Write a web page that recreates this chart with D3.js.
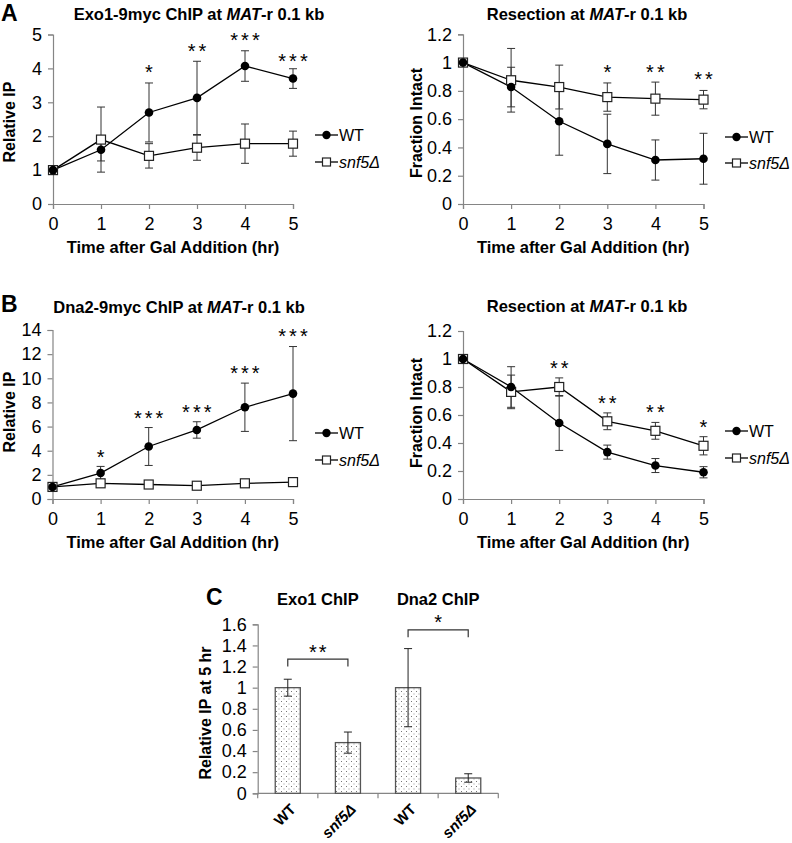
<!DOCTYPE html>
<html><head><meta charset="utf-8">
<script src="https://cdn.jsdelivr.net/npm/d3@7"></script>
<style>
html,body{margin:0;padding:0;background:#fff;}
svg text{font-family:"Liberation Sans",Arial,Helvetica,sans-serif;fill:#000;}
</style></head>
<body><svg id="fig" width="792" height="843"></svg>
<script>
// ---------- DATA ----------
const hours = [0, 1, 2, 3, 4, 5];
const seriesNames = ["WT", "snf5Δ"];

// Panel A left: Exo1-9myc ChIP
const exoWT     = [1.0, 1.6, 2.7, 3.13, 4.07, 3.7];
const exoWTErr  = [0.05, 0.33, 0.87, 1.08, 0.45, 0.29];
const exoSnf    = [1.0, 1.9, 1.42, 1.66, 1.78, 1.78];
const exoSnfErr = [0.05, 0.96, 0.36, 0.37, 0.58, 0.37];
const exoSig    = ["", "", "*", "**", "***", "***"];
const exoSigY   = [0, 0, 4.05, 4.66, 4.98, 4.37];
const exoTicks  = [0, 1, 2, 3, 4, 5];

// Panel A right: Resection (Exo1 set)
const resAWT     = [1.0, 0.827, 0.585, 0.425, 0.311, 0.32];
const resAWTErr  = [0.01, 0.14, 0.24, 0.21, 0.142, 0.18];
const resASnf    = [1.0, 0.875, 0.827, 0.756, 0.745, 0.738];
const resASnfErr = [0.01, 0.225, 0.155, 0.1, 0.117, 0.065];
const resASig    = ["", "", "", "*", "**", "**"];
const resASigY   = [0, 0, 0, 0.97, 0.97, 0.92];
const fracTicks  = [0, 0.2, 0.4, 0.6, 0.8, 1, 1.2];

// Panel B left: Dna2-9myc ChIP
const dnaWT     = [1.0, 2.15, 4.35, 5.72, 7.6, 8.73];
const dnaWTErr  = [0.3, 0.55, 1.57, 0.68, 2.0, 3.9];
const dnaSnf    = [1.0, 1.3, 1.2, 1.1, 1.3, 1.4];
const dnaSnfErr = [0.15, 0.2, 0.2, 0.2, 0.2, 0.2];
const dnaSig    = ["", "*", "***", "***", "***", "***"];
const dnaSigY   = [0, 3.92, 7.1, 7.65, 10.83, 13.92];
const dnaTicks  = [0, 2, 4, 6, 8, 10, 12, 14];

// Panel B right: Resection (Dna2 set)
const resBWT     = [1.0, 0.80, 0.543, 0.335, 0.239, 0.191];
const resBWTErr  = [0.01, 0.145, 0.196, 0.05, 0.05, 0.04];
const resBSnf    = [1.0, 0.765, 0.80, 0.555, 0.487, 0.38];
const resBSnfErr = [0.01, 0.12, 0.065, 0.06, 0.06, 0.065];
const resBSig    = ["", "", "**", "**", "**", "*"];
const resBSigY   = [0, 0, 0.973, 0.722, 0.657, 0.55];

// Panel C: relative IP at 5 hr
const cKeys   = ["exoWT", "exoSnf", "dnaWT", "dnaSnf"];
const cLabels = ["WT", "snf5Δ", "WT", "snf5Δ"];
const cValues = [1.0, 0.48, 1.0, 0.145];
const cErr    = [0.08, 0.1, 0.37, 0.04];
const cGroups = ["Exo1 ChIP", "Dna2 ChIP"];
const cBrackets = [ {from: "exoWT", to: "exoSnf", y: 1.27, leg: 1.2, label: "**", labelY: 1.385},
                    {from: "dnaWT", to: "dnaSnf", y: 1.547, leg: 1.477, label: "*", labelY: 1.67} ];
const cTicks  = [0, 0.2, 0.4, 0.6, 0.8, 1, 1.2, 1.4, 1.6];

// ---------- DRAWING ----------
const svg = d3.select("#fig");
const AXIS = "#858585";
const fmt = d3.format("~g");

const defs = svg.append("defs");
const pat = defs.append("pattern").attr("id", "dots").attr("patternUnits", "userSpaceOnUse")
  .attr("width", 5).attr("height", 5);
pat.append("rect").attr("width", 5).attr("height", 5).attr("fill", "#fff");
pat.append("rect").attr("x", 1).attr("y", 1).attr("width", 1).attr("height", 1).attr("fill", "#777");
pat.append("rect").attr("x", 3.5).attr("y", 3.5).attr("width", 1).attr("height", 1).attr("fill", "#999");

function styleAxis(g) {
  g.select(".domain").attr("stroke", AXIS).attr("stroke-width", 1.2);
  g.selectAll(".tick line").attr("stroke", AXIS).attr("stroke-width", 1.2);
  g.selectAll(".tick text").attr("font-size", 18).attr("font-family", '"Liberation Sans",Arial,sans-serif').attr("fill", "#000");
}

function square(g, cx, cy, s) {
  g.append("rect").attr("x", cx - s / 2).attr("y", cy - s / 2).attr("width", s).attr("height", s)
    .attr("fill", "#fff").attr("stroke", "#222").attr("stroke-width", 1.2);
}

function linePanel(o) {
  const g = svg.append("g");
  const x = d3.scaleLinear().domain([0, 5]).range([o.x0, o.x1]);
  const y = d3.scaleLinear().domain([0, o.yMax]).range([o.yb, o.yt]);

  const ya = g.append("g").attr("transform", `translate(${o.x0},0)`)
    .call(d3.axisLeft(y).tickValues(o.ticks).tickFormat(fmt).tickSize(5).tickPadding(6));
  styleAxis(ya);
  const xa = g.append("g").attr("transform", `translate(0,${o.yb})`)
    .call(d3.axisBottom(x).tickValues(hours).tickFormat(fmt).tickSize(5).tickPadding(8));
  styleAxis(xa);

  const t = g.append("text").attr("x", o.titleX).attr("y", o.titleY).attr("text-anchor", "middle")
    .attr("font-size", 16.5).attr("font-weight", "bold");
  t.append("tspan").text(o.titlePre);
  t.append("tspan").attr("font-style", "italic").text("MAT");
  t.append("tspan").text("-r 0.1 kb");

  g.append("text").attr("x", (o.x0 + o.x1) / 2).attr("y", o.yb + 49).attr("text-anchor", "middle")
    .attr("font-size", 16.5).attr("font-weight", "bold").text("Time after Gal Addition (hr)");
  g.append("text").attr("transform", `translate(${o.yLabX},${o.yLabY}) rotate(-90)`)
    .attr("text-anchor", "middle").attr("font-size", 16).attr("font-weight", "bold").text(o.yLabel);

  const line = d3.line().x((d, i) => x(hours[i])).y(d => y(d));
  const series = [
    {v: o.snf, e: o.snfErr, kind: "sq"},
    {v: o.wt, e: o.wtErr, kind: "ci"}
  ];
  series.forEach(s => {
    s.v.forEach((v, i) => {
      const cx = x(hours[i]);
      const lo = y(v - s.e[i]), hi = y(v + s.e[i]);
      g.append("line").attr("x1", cx).attr("x2", cx).attr("y1", lo).attr("y2", hi).attr("stroke", "#333").attr("stroke-width", 1);
      [lo, hi].forEach(yy => g.append("line").attr("x1", cx - 4).attr("x2", cx + 4).attr("y1", yy).attr("y2", yy)
        .attr("stroke", "#333").attr("stroke-width", 1));
    });
  });
  series.forEach(s => {
    g.append("path").attr("d", line(s.v)).attr("fill", "none").attr("stroke", "#000").attr("stroke-width", 1.3);
  });
  series.forEach(s => {
    s.v.forEach((v, i) => {
      if (s.kind === "sq") square(g, x(hours[i]), y(v), 9);
      else g.append("circle").attr("cx", x(hours[i])).attr("cy", y(v)).attr("r", 4.3).attr("fill", "#000");
    });
  });
  o.sig.forEach((s, i) => {
    if (!s) return;
    g.append("text").attr("x", x(hours[i]) + 1.5).attr("y", y(o.sigY[i]) + 12).attr("text-anchor", "middle")
      .attr("font-size", 20).attr("letter-spacing", 3).text(s);
  });
  [[o.legY1, "ci"], [o.legY2, "sq"]].forEach(([ly, k], j) => {
    g.append("line").attr("x1", o.legX).attr("x2", o.legX + 23).attr("y1", ly).attr("y2", ly).attr("stroke", "#000").attr("stroke-width", 1.3);
    if (k === "ci") g.append("circle").attr("cx", o.legX + 11.5).attr("cy", ly).attr("r", 4.2).attr("fill", "#000");
    else square(g, o.legX + 11.5, ly, 8);
    g.append("text").attr("x", o.legX + 24).attr("y", ly + 6).attr("font-size", 16)
      .attr("font-style", j === 1 ? "italic" : "normal").text(seriesNames[j]);
  });
}

linePanel({x0: 53, x1: 293, yb: 204, yt: 34.5, yMax: 5, ticks: exoTicks,
  wt: exoWT, wtErr: exoWTErr, snf: exoSnf, snfErr: exoSnfErr, sig: exoSig, sigY: exoSigY,
  titlePre: "Exo1-9myc ChIP at ", titleX: 199, titleY: 20, yLabel: "Relative IP", yLabX: 15, yLabY: 122,
  legX: 315, legY1: 135, legY2: 162});
linePanel({x0: 463, x1: 703.5, yb: 204, yt: 34.3, yMax: 1.2, ticks: fracTicks,
  wt: resAWT, wtErr: resAWTErr, snf: resASnf, snfErr: resASnfErr, sig: resASig, sigY: resASigY,
  titlePre: "Resection at ", titleX: 587, titleY: 20, yLabel: "Fraction Intact", yLabX: 422, yLabY: 123,
  legX: 725, legY1: 137, legY2: 163});
linePanel({x0: 52.5, x1: 293, yb: 499, yt: 330, yMax: 14, ticks: dnaTicks,
  wt: dnaWT, wtErr: dnaWTErr, snf: dnaSnf, snfErr: dnaSnfErr, sig: dnaSig, sigY: dnaSigY,
  titlePre: "Dna2-9myc ChIP at ", titleX: 179, titleY: 313, yLabel: "Relative IP", yLabX: 15, yLabY: 412,
  legX: 315, legY1: 433, legY2: 460});
linePanel({x0: 463, x1: 703.5, yb: 499, yt: 331, yMax: 1.2, ticks: fracTicks,
  wt: resBWT, wtErr: resBWTErr, snf: resBSnf, snfErr: resBSnfErr, sig: resBSig, sigY: resBSigY,
  titlePre: "Resection at ", titleX: 587, titleY: 312, yLabel: "Fraction Intact", yLabX: 422, yLabY: 413,
  legX: 725, legY1: 431, legY2: 458});

[["A", 1, 21], ["B", 1, 312], ["C", 206, 605]].forEach(([l, lx, ly]) =>
  svg.append("text").attr("x", lx).attr("y", ly).attr("font-size", 23).attr("font-weight", "bold").text(l));

// ---------- Panel C ----------
(function () {
  const g = svg.append("g");
  const x0 = 257.7, x1 = 498.3, yb = 793.3, yt = 624.3;
  const pIn = 1 - 25 / 60;
  const x = d3.scaleBand().domain(cKeys).range([x0, x1]).paddingInner(pIn).paddingOuter(pIn / 2);
  const y = d3.scaleLinear().domain([0, 1.6]).range([yb, yt]);
  const ya = g.append("g").attr("transform", `translate(${x0},0)`)
    .call(d3.axisLeft(y).tickValues(cTicks).tickFormat(fmt).tickSize(5).tickPadding(6));
  styleAxis(ya);
  g.append("line").attr("x1", x0).attr("x2", x1).attr("y1", yb).attr("y2", yb).attr("stroke", AXIS).attr("stroke-width", 1.2);
  d3.range(cKeys.length + 1).forEach(i => {
    const xx = x0 + i * x.step();
    g.append("line").attr("x1", xx).attr("x2", xx).attr("y1", yb).attr("y2", yb + 5).attr("stroke", AXIS).attr("stroke-width", 1.2);
  });
  cKeys.forEach((k, i) => {
    g.append("rect").attr("x", x(k)).attr("y", y(cValues[i])).attr("width", x.bandwidth()).attr("height", yb - y(cValues[i]))
      .attr("fill", "url(#dots)").attr("stroke", "#555").attr("stroke-width", 1.3);
    const cx = x(k) + x.bandwidth() / 2;
    const lo = y(cValues[i] - cErr[i]), hi = y(cValues[i] + cErr[i]);
    g.append("line").attr("x1", cx).attr("x2", cx).attr("y1", lo).attr("y2", hi).attr("stroke", "#222");
    [lo, hi].forEach(yy => g.append("line").attr("x1", cx - 4).attr("x2", cx + 4).attr("y1", yy).attr("y2", yy).attr("stroke", "#222"));
    const lab = g.append("text").attr("transform", `translate(${cx + 9},${yb + 17}) rotate(-45)`)
      .attr("text-anchor", "end").attr("font-size", 15).attr("font-weight", "bold").text(cLabels[i]);
    if (i % 2 === 1) lab.attr("font-style", "italic");
  });
  cGroups.forEach((name, j) => {
    const cx = x0 + (2 * j + 1) * x.step();
    g.append("text").attr("x", cx).attr("y", 605).attr("text-anchor", "middle").attr("font-size", 16.5)
      .attr("font-weight", "bold").text(name);
  });
  cBrackets.forEach(b => {
    const xa = x(b.from) + x.bandwidth() / 2, xb = x(b.to) + x.bandwidth() / 2;
    g.append("path").attr("d", `M${xa},${y(b.leg)}V${y(b.y)}H${xb}V${y(b.leg)}`)
      .attr("fill", "none").attr("stroke", "#333").attr("stroke-width", 1.2);
    g.append("text").attr("x", (xa + xb) / 2 + 1).attr("y", y(b.labelY) + 12).attr("text-anchor", "middle")
      .attr("font-size", 20).attr("letter-spacing", 2).text(b.label);
  });
  g.append("text").attr("transform", `translate(211,713) rotate(-90)`).attr("text-anchor", "middle")
    .attr("font-size", 16).attr("font-weight", "bold").text("Relative IP at 5 hr");
})();
</script></body></html>
